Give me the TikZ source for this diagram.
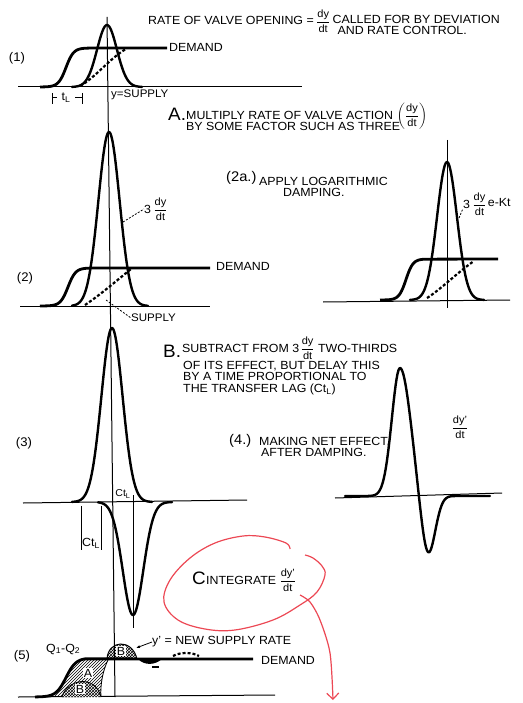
\documentclass[tikz,border=0pt]{standalone}
\usepackage{fontspec}
\usepackage{amsmath}
\newfontfamily\lettering[FakeStretch=1.05]{Liberation Sans}
\usetikzlibrary{arrows.meta, patterns, positioning}
\definecolor{inkred}{RGB}{236,72,84}
\newcommand{\fr}[2]{\genfrac{}{}{0.6pt}{0}{\text{#1}}{\text{#2}}}

\begin{document}
\begin{tikzpicture}[
    x=1pt, y=-1pt,
    every node/.style={font=\lettering\fontsize{11.8}{11}\selectfont, inner sep=0pt},
    small/.style={font=\lettering\fontsize{11}{11}\selectfont},
    frac/.style={font=\lettering\fontsize{10.5}{10.5}\selectfont},
    big/.style={font=\lettering\fontsize{18}{18}\selectfont},
    mid/.style={font=\lettering\fontsize{14}{14}\selectfont},
    panel/.style={font=\lettering\fontsize{12.5}{12.5}\selectfont},
    curve/.style={line width=2.4pt, line cap=round, line join=round},
    demand/.style={line width=2.8pt},
    axis/.style={line width=1pt},
    supply/.style={line width=2.2pt, dash pattern=on 3pt off 2pt},
    leader/.style={line width=0.8pt, dash pattern=on 2pt off 1.5pt},
    redink/.style={draw=inkred, line width=1.2pt}
]
    \useasboundingbox (0,0) rectangle (522,703);

    % ---- statement and steps ----
    \node[anchor=west] (rate) at (148,20) {RATE OF VALVE OPENING =};
    \node[frac, right=2pt of rate, yshift=-1pt] (ratefr) {$\fr{dy}{dt}$};
    \node[anchor=west, align=left] (ratecall) at ([xshift=2pt, yshift=-4pt]ratefr.east) {CALLED FOR BY DEVIATION\\\hspace{5pt}AND RATE CONTROL.};

    \node[big, anchor=west] (stepA) at (168,114) {A.};
    \node[anchor=west, align=left] (stepAtxt) at (186,121) {MULTIPLY RATE OF VALVE ACTION\\BY SOME FACTOR SUCH AS THREE};
    \node[frac] (stepAfr) at (412,116) {$\left(\fr{dy}{dt}\right)$};

    \node[mid, anchor=west] (step2a) at (226,178) {(2a.)};
    \node[anchor=west, align=left] (step2atxt) at (259,187) {APPLY LOGARITHMIC\\\hspace{24pt}DAMPING.};

    \node[big, anchor=west] (stepB) at (163,351) {B.};
    \node[anchor=west] (stepBtxt) at (182,348) {SUBTRACT FROM 3};
    \node[frac, right=1pt of stepBtxt] (stepBfr) {$\fr{dy}{dt}$};
    \node[right=3pt of stepBfr] (stepBtwo) {TWO-THIRDS};
    \node[anchor=north west, align=left, font=\lettering\fontsize{11.8}{11.5}\selectfont] (stepBrest) at (183,361)
        {OF ITS EFFECT, BUT DELAY THIS\\BY A TIME PROPORTIONAL TO\\THE TRANSFER LAG (Ct\textsubscript{L})};

    \node[mid, anchor=west] (step4) at (229,441) {(4.)};
    \node[anchor=west, align=left] (step4txt) at (259,447) {MAKING NET EFFECT,\\\hspace{2pt}AFTER DAMPING.};

    \node[big, anchor=west] (stepC) at (192,578) {C};
    \node[anchor=west] (stepCtxt) at (206,580) {INTEGRATE};
    \node[frac, right=3pt of stepCtxt] (stepCfr) {$\fr{dy’}{dt}$};

    % ---- common time axis ----
    \draw[axis] (107,17) -- (115,697);

    % ---- (1) ----
    \node[panel] (lab1) at (17,58) {(1)};
    \draw[axis] (18,87) -- (302,87);
    \draw[demand] plot[domain=40:95, samples=60] (\x, {87-39/(1+exp(-(\x-66)/3.8))}) -- (167,48);
    \draw[curve] plot[domain=72:142, samples=80] (\x, {87-62*exp(0-((\x-107)/14)^2)});
    \draw[supply] (80,86) .. controls (95,78) and (110,58) .. (126,49);
    \node[anchor=west] (dem1) at (169,47) {DEMAND};
    \node[anchor=west, small] (sup1) at (111,95) {y=SUPPLY};
    \node (tl) at (66,98) {t\textsubscript{L}};
    \draw[axis] (52,93) -- (52,104) (52,98) -- (57,98) (75,98) -- (82,98) (82,93) -- (82,104);

    % ---- (2) ----
    \node[panel] (lab2) at (25,278) {(2)};
    \draw[axis] (20,306) -- (210,306);
    \draw[demand] plot[domain=40:95, samples=60] (\x, {306-38/(1+exp(-(\x-68)/3.8))}) -- (210,268);
    \draw[curve] plot[domain=72:148, samples=90] (\x, {306-174*exp(0-((\x-109)/15)^2)});
    \draw[supply] (85,305) .. controls (100,295) and (115,282) .. (131,269);
    \node[anchor=west] (dem2) at (216,266) {DEMAND};
    \node[anchor=west] (three2) at (144,209) {3};
    \node[frac, right=2pt of three2] (three2fr) {$\fr{dy}{dt}$};
    \draw[leader] (123,222) -- (three2.west);
    \node[anchor=west, small] (sup2) at (131,318) {SUPPLY};
    \draw[leader] (106,300) -- (sup2.west);

    % ---- (2a) ----
    \draw[axis] (323,302) -- (510,300);
    \draw[axis] (447,140) -- (447,308);
    \draw[demand] plot[domain=380:425, samples=60] (\x, {300-41/(1+exp(-(\x-406)/3.5))}) -- (498,259);
    \draw[curve] plot[domain=410:484, samples=80] (\x, {300-138*exp(0-((\x-447)/14)^2)});
    \draw[supply] (427,298) .. controls (440,290) and (458,272) .. (474,261);
    \node[anchor=west] (three2a) at (463,204) {3};
    \node[frac, right=2pt of three2a] (three2afr) {$\fr{dy}{dt}$};
    \node[right=1pt of three2afr, yshift=2pt] (ekt) {e-Kt};
    \draw[leader] (459,218) -- (three2a.south west);

    % ---- (3) ----
    \node[panel] (lab3) at (24,443) {(3)};
    \draw[axis] (23,503) -- (247,500);
    \draw[axis] (133,495) -- (133,628);
    \draw[curve] plot[domain=72:152, samples=90] (\x, {502-174*exp(0-((\x-112)/15)^2)});
    \draw[curve] plot[domain=98:172, samples=90] (\x, {502+113*exp(0-((\x-133)/14.5)^2)});
    \draw[axis] (81,506) -- (81,550) (101,506) -- (101,550);
    \node (ctl1) at (91,543) {Ct\textsubscript{L}};
    \node[font=\lettering\fontsize{10}{10}\selectfont] (ctl2) at (123,494) {Ct\textsubscript{L}};

    % ---- (4) ----
    \draw[axis] (335,498) -- (502,493);
    \draw[curve] plot[domain=345:490, samples=150]
        (\x, {496-128*exp(0-((\x-400)/(\x<400?11.5:15))^2)+60*exp(0-((\x-428)/10)^2)});
    \node[frac] (net4) at (460,427) {$\fr{dy’}{dt}$};

    % ---- (5) ----
    \node[panel] (lab5) at (22,656) {(5)};
    \node[anchor=west] (q12) at (46,649) {Q\textsubscript{1}-Q\textsubscript{2}};
    \draw[axis] (18,697) -- (275,695);
    \fill[pattern=north east lines] plot[domain=45:85, samples=40] (\x, {697-39/(1+exp(-(\x-66)/5))})
        -- (108,660) .. controls (103,670) and (100,685) .. (101,697) -- cycle;
    \fill[white] (62,697) .. controls (66,680) and (95,673) .. (101,697) -- cycle;
    \fill[pattern=crosshatch] (62,697) .. controls (66,680) and (95,673) .. (101,697) -- cycle;
    \draw[line width=0.8pt] (108,660) .. controls (103,670) and (100,685) .. (101,697);
    \draw[line width=0.8pt] (62,697) .. controls (66,680) and (95,673) .. (101,697);
    \draw[demand] plot[domain=35:85, samples=50] (\x, {697-39/(1+exp(-(\x-66)/5))}) -- (253,659);
    \filldraw[pattern=crosshatch, line width=1pt] (107,659) .. controls (108,640) and (132,638) .. (137,659) -- cycle;
    \fill (138,659) .. controls (145,666) and (155,665) .. (162,659) -- cycle;
    \draw[line width=1.5pt] (152,667) -- (159,667);
    \draw[supply] (173,656) .. controls (180,652) and (192,652) .. (199,656);
    \node[fill=white, inner sep=0.6pt] (areaA) at (88,673) {A};
    \node[fill=white, inner sep=0.6pt] (areaB) at (80,689) {B};
    \node[fill=white, inner sep=0.6pt] (bumpB) at (121,651) {B};
    \coordinate (bumptip) at (136,648);
    \node[anchor=west] (ylab) at (152,642) {y’ = NEW SUPPLY RATE};
    \draw[-{Latex[length=4pt]}, line width=0.8pt] (ylab.west) -- (bumptip);
    \node[anchor=west] (dem5) at (261,660) {DEMAND};

    % ---- red note ----
    \draw[redink] plot[smooth, tension=0.6] coordinates {(290,549) (286,543) (265,537) (243,536) (215,543)
        (190,558) (170,580) (164,602) (178,620) (205,629) (235,630) (273,620) (300,605) (317,592)
        (325,575) (322,566) (313,558) (305,555)};
    \draw[redink, -{Straight Barb[length=6pt]}] plot[smooth] coordinates {(300,595) (310,602) (320,620) (330,653) (333,700)};

\end{tikzpicture}
\end{document}
